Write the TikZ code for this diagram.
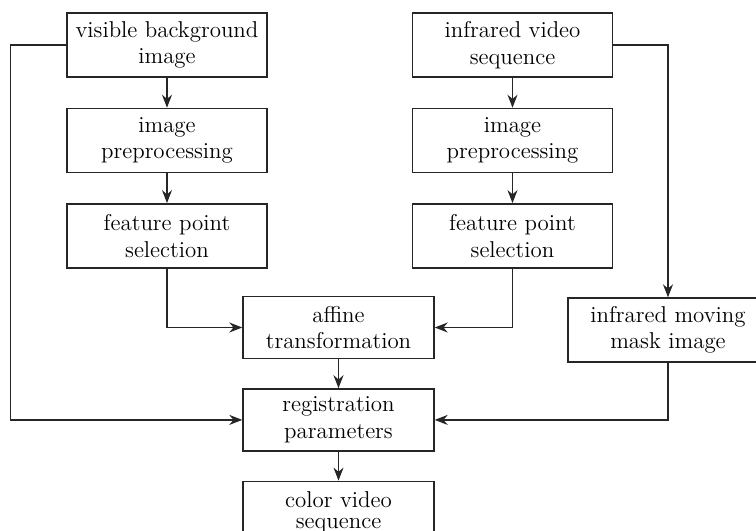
\documentclass[tikz,border=0pt]{standalone}
\usetikzlibrary{positioning}
\usetikzlibrary{arrows.meta}

\begin{document}
\begin{tikzpicture}[x=1bp,y=1bp,node distance=15bp,
        process/.style={rectangle, draw=black!85, line width=0.7bp, minimum width=100bp, minimum height=32bp,
            align=center, inner sep=2bp, font=\fontsize{11.5}{13.3}\selectfont},
        midbox/.style={process, minimum width=95.5bp, minimum height=31bp},
        arr/.style={line width=0.7bp,draw=black!85,-{Stealth[length=6.5bp,width=5bp]}}
        ]
        \useasboundingbox (0,0) rectangle (378,-265.5);
        % left column
        \node (vis) [process] at (83.5,-22.5) {visible background\\image};
        \node (pre1) [process,below=of vis] {image\\preprocessing};
        \node (fp1) [process,below=of pre1] {feature point\\selection};
        \draw[arr] (vis) -- (pre1);
        \draw[arr] (pre1) -- (fp1);
        % right column
        \node (ir) [process] at (256.25,-22.5) {infrared video\\sequence};
        \node (pre2) [process,below=of ir] {image\\preprocessing};
        \node (fp2) [process,below=of pre2] {feature point\\selection};
        \draw[arr] (ir) -- (pre2);
        \draw[arr] (pre2) -- (fp2);
        % middle
        \node (aff) [midbox] at (169.25,-163.75) {affine\\transformation};
        \node (reg) [midbox,below=14.5bp of aff] {registration\\parameters};
        \node (col) [midbox,below=14.5bp of reg,font=\fontsize{11.5}{11}\selectfont] {color video\\sequence};
        \draw[arr] (fp1) |- (aff);
        \draw[arr] (fp2) |- (aff);
        \draw[arr] (aff) -- (reg);
        \draw[arr] (reg) -- (col);
        % mask
        \node (mask) [process] at (334,-165) {infrared moving\\mask image};
        \draw[arr] (ir.east) -| (mask);
        \draw[arr] (mask) |- (reg);
        \draw[arr] (vis.west) -- ++(-28,0) |- (reg);
\end{tikzpicture}
\end{document}
